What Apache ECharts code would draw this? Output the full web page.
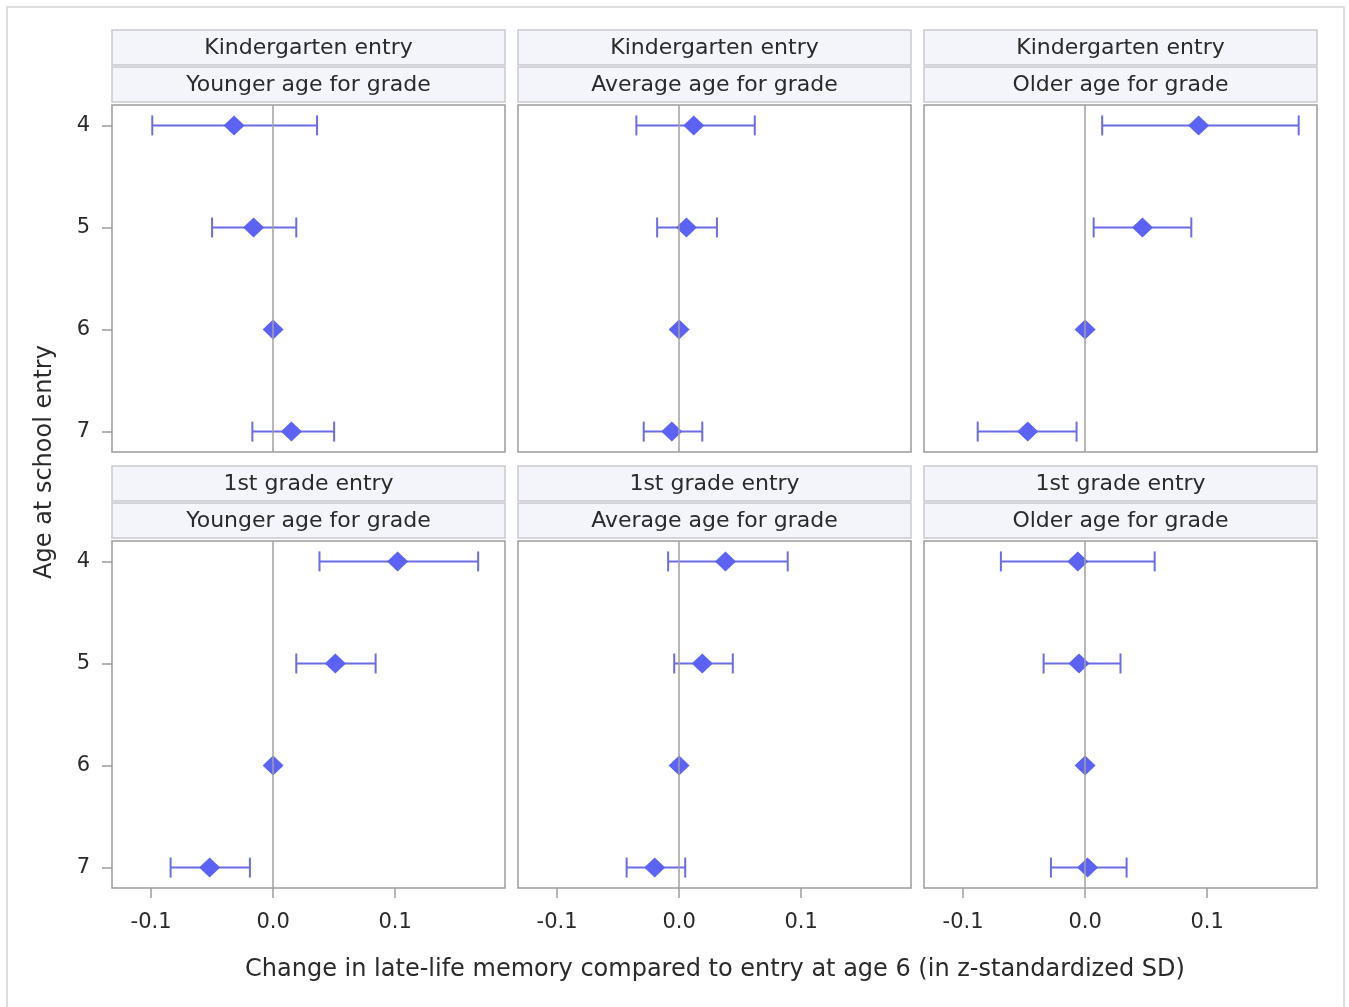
<!DOCTYPE html>
<html><head><meta charset="utf-8">
<script src="https://cdn.jsdelivr.net/npm/echarts@6/dist/echarts.min.js"></script>
<style>html,body{margin:0;padding:0;background:#fff}#c{width:1349px;height:1007px}</style>
</head><body><div id="c"></div>
<script>
// ---- data ----
const ages = [4, 5, 6, 7];
const xTicks = [-0.1, 0.0, 0.1];
const rowLabels = ['Kindergarten entry', '1st grade entry'];
const colLabels = ['Younger age for grade', 'Average age for grade', 'Older age for grade'];

const kYoungerEst = [-0.032, -0.016, 0, 0.015];
const kYoungerLo  = [-0.099, -0.050, null, -0.017];
const kYoungerHi  = [0.036, 0.019, null, 0.050];

const kAverageEst = [0.012, 0.006, 0, -0.006];
const kAverageLo  = [-0.035, -0.018, null, -0.029];
const kAverageHi  = [0.062, 0.031, null, 0.019];

const kOlderEst = [0.093, 0.047, 0, -0.047];
const kOlderLo  = [0.014, 0.007, null, -0.088];
const kOlderHi  = [0.175, 0.087, null, -0.007];

const g1YoungerEst = [0.102, 0.051, 0, -0.052];
const g1YoungerLo  = [0.038, 0.019, null, -0.084];
const g1YoungerHi  = [0.168, 0.084, null, -0.019];

const g1AverageEst = [0.038, 0.019, 0, -0.020];
const g1AverageLo  = [-0.009, -0.004, null, -0.043];
const g1AverageHi  = [0.089, 0.044, null, 0.005];

const g1OlderEst = [-0.006, -0.005, 0, 0.002];
const g1OlderLo  = [-0.069, -0.034, null, -0.028];
const g1OlderHi  = [0.057, 0.029, null, 0.034];

const panels = [
  {est: kYoungerEst, lo: kYoungerLo, hi: kYoungerHi},
  {est: kAverageEst, lo: kAverageLo, hi: kAverageHi},
  {est: kOlderEst, lo: kOlderLo, hi: kOlderHi},
  {est: g1YoungerEst, lo: g1YoungerLo, hi: g1YoungerHi},
  {est: g1AverageEst, lo: g1AverageLo, hi: g1AverageHi},
  {est: g1OlderEst, lo: g1OlderLo, hi: g1OlderHi}
];

// ---- layout ----
const FONT = 'DejaVu Sans';
const colLeft = [112, 518, 924];
const panelW = 393;
const rowTop = [105, 541];
const panelH = 347;
const markerColor = '#5b62f4';
const barColor = '#6a6de6';
const textColor = '#2a2a2a';

const grids = [], xAxes = [], yAxes = [], series = [], graphics = [];

graphics.push({type: 'rect', shape: {x: 7, y: 7, width: 1337, height: 1010},
  style: {fill: 'none', stroke: '#d4d4d4', lineWidth: 1.5}, z: 0});

for (let r = 0; r < 2; r++) {
  for (let c = 0; c < 3; c++) {
    const i = r * 3 + c;
    const p = panels[i];
    grids.push({left: colLeft[c], top: rowTop[r], width: panelW, height: panelH,
      show: true, borderColor: '#9c9c9c', borderWidth: 1.5, backgroundColor: '#fff', containLabel: false});
    xAxes.push({
      type: 'value', gridIndex: i, min: -0.132, max: 0.19, position: 'bottom',
      axisLine: {show: false, onZero: false}, splitLine: {show: false},
      axisTick: {show: r === 1, length: 10, lineStyle: {color: '#9c9c9c', width: 1.5}, customValues: xTicks},
      axisLabel: {show: r === 1, customValues: xTicks, margin: 24, color: textColor,
        fontFamily: FONT, fontSize: 21, formatter: v => v.toFixed(1)}
    });
    yAxes.push({
      type: 'value', gridIndex: i, min: 3.8, max: 7.2, inverse: true, position: 'left',
      axisLine: {show: false, onZero: false}, splitLine: {show: false},
      axisTick: {show: c === 0, length: 10, lineStyle: {color: '#9c9c9c', width: 1.5}, customValues: ages},
      axisLabel: {show: c === 0, customValues: ages, margin: 22, color: textColor,
        fontFamily: FONT, fontSize: 21, formatter: v => String(Math.round(v))}
    });
    // zero reference line
    series.push({
      type: 'line', xAxisIndex: i, yAxisIndex: i, data: [], silent: true,
      markLine: {silent: true, symbol: 'none', label: {show: false},
        lineStyle: {color: '#a0a0a0', width: 1.5, type: 'solid'},
        emphasis: {disabled: true}, data: [{xAxis: 0}]}
    });
    // error bars
    const barData = [];
    ages.forEach((a, k) => { if (p.lo[k] !== null) barData.push([p.lo[k], p.hi[k], a]); });
    series.push({
      type: 'custom', xAxisIndex: i, yAxisIndex: i, data: barData, silent: true, z: 3,
      renderItem: function (params, api) {
        const a = api.coord([api.value(0), api.value(2)]);
        const b = api.coord([api.value(1), api.value(2)]);
        const st = {stroke: barColor, lineWidth: 2};
        const h = 10;
        return {type: 'group', children: [
          {type: 'line', shape: {x1: a[0], y1: a[1], x2: b[0], y2: b[1]}, style: st},
          {type: 'line', shape: {x1: a[0], y1: a[1] - h, x2: a[0], y2: a[1] + h}, style: st},
          {type: 'line', shape: {x1: b[0], y1: b[1] - h, x2: b[0], y2: b[1] + h}, style: st}
        ]};
      }
    });
    // estimates
    series.push({
      type: 'scatter', xAxisIndex: i, yAxisIndex: i, z: 4, silent: true,
      symbol: 'diamond', symbolSize: [21, 20],
      itemStyle: {color: markerColor, opacity: 1},
      data: ages.map((a, k) => [p.est[k], a])
    });
    // header strips
    const x0 = colLeft[c];
    const stripTops = [rowTop[r] - 75, rowTop[r] - 38];
    const texts = [rowLabels[r], colLabels[c]];
    for (let s = 0; s < 2; s++) {
      graphics.push({type: 'rect', shape: {x: x0, y: stripTops[s], width: panelW, height: 35},
        style: {fill: '#f3f5fb', stroke: '#c9c9cf', lineWidth: 1.5}, z: 1});
      graphics.push({type: 'text', x: x0 + panelW / 2, y: stripTops[s] + 18,
        style: {text: texts[s], fill: textColor, font: '22px "' + FONT + '"',
          align: 'center', verticalAlign: 'middle'}, z: 2});
    }
  }
}

graphics.push({type: 'text', x: 715, y: 970,
  style: {text: 'Change in late-life memory compared to entry at age 6 (in z-standardized SD)',
    fill: textColor, font: '24px "' + FONT + '"', align: 'center', verticalAlign: 'middle'}, z: 2});
graphics.push({type: 'text', x: 45, y: 462, rotation: Math.PI / 2,
  style: {text: 'Age at school entry', fill: textColor, font: '24px "' + FONT + '"',
    align: 'center', verticalAlign: 'middle'}, z: 2});

const chart = echarts.init(document.getElementById('c'), null, {renderer: 'canvas'});
chart.setOption({
  animation: false,
  backgroundColor: '#fff',
  grid: grids, xAxis: xAxes, yAxis: yAxes, series: series, graphic: graphics
});
</script>
</body></html>
